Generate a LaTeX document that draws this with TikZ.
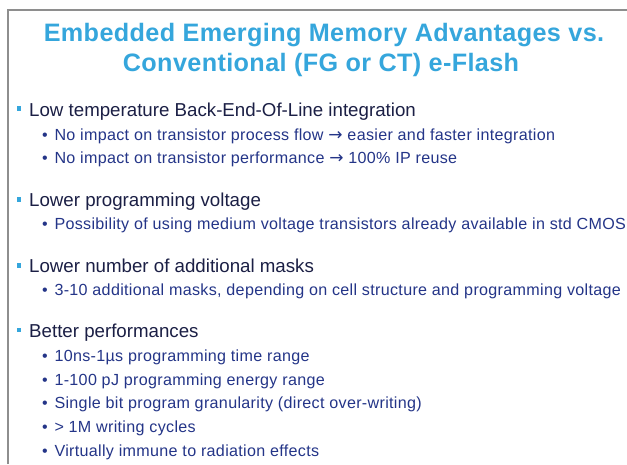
\documentclass[tikz,border=0pt]{standalone}
\usepackage{fontspec}
\setmainfont{Liberation Sans}
\newfontfamily\headfont[LetterSpace=1.5]{Liberation Sans}
\newfontfamily\itemfont[LetterSpace=2]{Liberation Sans}
\newfontfamily\arrowfont{DejaVu Sans}
\usepackage{tikz}

\definecolor{slideblue}{HTML}{35A6DC}
\definecolor{inknavy}{HTML}{1B1F45}
\definecolor{subnavy}{HTML}{243588}
\definecolor{framegray}{HTML}{8E8E8E}

\newcommand{\goesto}{{\arrowfont\fontsize{17}{19}\selectfont →}}

\tikzset{
  headline/.style={font=\headfont\bfseries\fontsize{25.2}{30}\selectfont, text=slideblue, anchor=base, inner sep=0pt},
  topitem/.style={font=\fontsize{18.7}{22}\selectfont, text=inknavy, anchor=base west, inner sep=0pt},
  subitem/.style={font=\itemfont\fontsize{16.1}{19}\selectfont, text=subnavy, anchor=base west, inner sep=0pt},
  sqmark/.style={fill=slideblue, minimum size=4.5pt, inner sep=0pt},
  dotmark/.style={font=\fontsize{16}{19}\selectfont, text=subnavy, anchor=base west, inner sep=0pt}
}

\begin{document}
\begin{tikzpicture}[x=1pt, y=-1pt]
  \useasboundingbox (0,0) rectangle (627,464);
  \fill[white] (0,0) rectangle (627,464);
  \draw[framegray, line width=1.8pt] (8,464) -- (8,10) -- (627,10);

  % title
  \node[headline] (head1) at (324,41.7) {Embedded Emerging Memory Advantages vs.};
  \node[headline] (head2) at (321,71.5) {Conventional (FG or CT) e-Flash};

  % first group
  \node[sqmark] (sq1) at (19,108.7) {};
  \node[topitem] (beol) at (29,116) {Low temperature Back-End-Of-Line integration};
  \node[dotmark] (d11) at (42,140) {•};
  \node[subitem] (flow) at (54.3,140) {No impact on transistor process flow \goesto{} easier and faster integration};
  \node[dotmark] (d12) at (42,163.3) {•};
  \node[subitem] (perf) at (54.3,163.3) {No impact on transistor performance \goesto{} 100\% IP reuse};

  % second group
  \node[sqmark] (sq2) at (19,199.4) {};
  \node[topitem] (volt) at (29,206.7) {Lower programming voltage};
  \node[dotmark] (d21) at (42,229.4) {•};
  \node[subitem] (cmos) at (54.3,229.4) {Possibility of using medium voltage transistors already available in std CMOS};

  % third group
  \node[sqmark] (sq3) at (19,265.4) {};
  \node[topitem] (mask) at (29,272.7) {Lower number of additional masks};
  \node[dotmark] (d31) at (42,295.4) {•};
  \node[subitem] (cell) at (54.3,295.4) {3-10 additional masks, depending on cell structure and programming voltage};

  % fourth group
  \node[sqmark] (sq4) at (19,330) {};
  \node[topitem] (better) at (29,337.3) {Better performances};
  \node[dotmark] (d41) at (42,361.2) {•};
  \node[subitem] (time) at (54.3,361.2) {10ns-1µs programming time range};
  \node[dotmark] (d42) at (42,385) {•};
  \node[subitem] (energy) at (54.3,385) {1-100 pJ programming energy range};
  \node[dotmark] (d43) at (42,408.6) {•};
  \node[subitem] (gran) at (54.3,408.6) {Single bit program granularity (direct over-writing)};
  \node[dotmark] (d44) at (42,432.3) {•};
  \node[subitem] (cycles) at (54.3,432.3) {> 1M writing cycles};
  \node[dotmark] (d45) at (42,456) {•};
  \node[subitem] (rad) at (54.3,456) {Virtually immune to radiation effects};
\end{tikzpicture}
\end{document}
